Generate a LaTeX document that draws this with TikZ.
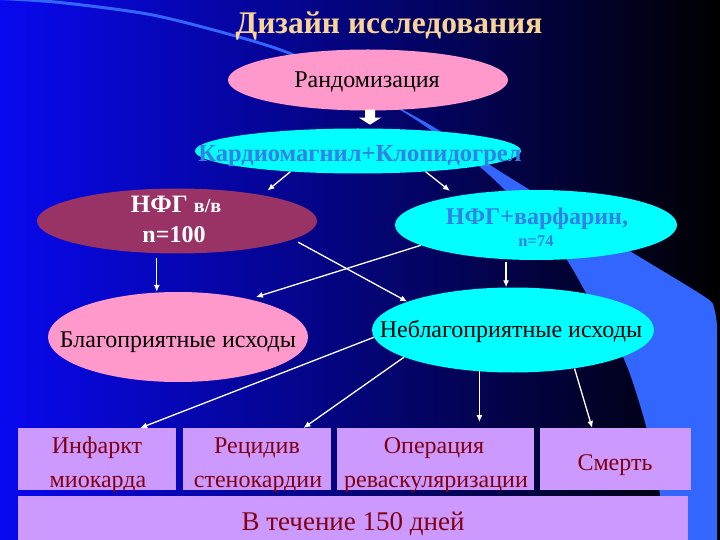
\documentclass[tikz,border=0pt]{standalone}
\usepackage{fontspec}
\setmainfont{Liberation Serif}
\usetikzlibrary{shapes.geometric,arrows.meta,calc}
\definecolor{pinkE}{RGB}{255,153,204}
\definecolor{cyanE}{RGB}{0,255,255}
\definecolor{maroonE}{RGB}{153,51,102}
\definecolor{lav}{RGB}{204,153,255}
\definecolor{boxred}{RGB}{128,0,16}
\definecolor{txtblue}{RGB}{51,128,230}
\definecolor{bandc}{RGB}{51,102,255}
\definecolor{bgleft}{RGB}{8,8,240}
\definecolor{bgmid}{RGB}{0,0,190}
\definecolor{titlec}{RGB}{250,212,148}
\tikzset{
  arr/.style={draw=white, line width=1.3pt, -{Latex[length=7pt,width=6pt]}},
  ell/.style={ellipse, inner sep=0pt},
  bx/.style={rectangle, fill=lav, inner sep=0pt, anchor=north west},
  etxt/.style={anchor=base, inner sep=0pt, font=\fontsize{24}{24}\selectfont},
  btxt/.style={anchor=base, inner sep=0pt, text=boxred, font=\fontsize{24}{24}\selectfont},
}
\begin{document}
\begin{tikzpicture}[x=1pt,y=-1pt]
\useasboundingbox (0,0) rectangle (720,540);
% background
\shade[left color=bgleft, middle color=bgmid, right color=black] (0,0) rectangle (720,540);
% curved band
\fill[bandc] plot[smooth] coordinates {(0,0) (60,4) (150,16) (230,36) (290,55) (350,85) (400,110) (435,133) (480,167) (507,192) (540,225) (567,260) (590,300) (623,357) (640,405) (652,450) (660,495) (665,541)}
  -- (717,541) -- plot[smooth] coordinates {(717,325) (714,308) (705,297) (633,253) (530,190) (490,165) (440,131) (405,111) (350,82) (290,52) (230,33) (150,13) (60,1) (0,-3)} -- cycle;

% title
\node[anchor=base, inner sep=0pt, text=titlec, font=\fontsize{31.5}{32}\selectfont\bfseries] (title) at (389,34) {Дизайн исследования};

% ellipses
\node[ell, fill=pinkE, minimum width=280pt, minimum height=61pt] (e1) at (368,80) {};
\node[ell, fill=cyanE, minimum width=326pt, minimum height=45pt] (e2) at (358,151) {};
\node[ell, fill=maroonE, minimum width=280pt, minimum height=65pt] (e3) at (177,221) {};
\node[ell, fill=cyanE, minimum width=282pt, minimum height=70pt] (e4) at (536,225) {};
\node[ell, fill=pinkE, minimum width=260pt, minimum height=90pt] (e5) at (178,337) {};
\node[ell, fill=cyanE, minimum width=282pt, minimum height=85pt] (e6) at (513,330) {};

% block arrow under Рандомизация
\coordinate (ba) at ($(e1.south)+(2,0)$);
\fill[white] (ba) ++(-5,-1) -- ++(10,0) -- ++(0,8) -- ++(6,0) -- ++(-11,7) -- ++(-11,-7) -- ++(6,0) -- cycle;

% ellipse texts
\node[etxt] (t1) at (367,88) {Рандомизация};
\node[etxt, text=txtblue, font=\fontsize{24.5}{24}\selectfont\bfseries] (t2) at (360,162) {Кардиомагнил+Клопидогрел};
\node[etxt, text=white, font=\bfseries] (t3a) at (176,213) {\fontsize{25}{25}\selectfont НФГ \fontsize{20}{20}\selectfont в/в};
\node[etxt, text=white, font=\fontsize{24}{24}\selectfont\bfseries] (t3b) at (174,242) {n=100};
\node[etxt, text=txtblue, font=\fontsize{24}{24}\selectfont\bfseries] (t4a) at (537,225) {НФГ+варфарин,};
\node[etxt, text=txtblue, font=\fontsize{16.5}{17}\selectfont\bfseries] (t4b) at (536,247) {n=74};
\node[etxt] (t5) at (178,347) {Благоприятные исходы};
\node[etxt] (t6) at (511,337) {Неблагоприятные исходы};

% boxes
\node[bx, minimum width=158pt, minimum height=62pt] (b1) at (18,428) {};
\node[bx, minimum width=148pt, minimum height=62pt] (b2) at (183,428) {};
\node[bx, minimum width=197pt, minimum height=62pt] (b3) at (337,428) {};
\node[bx, minimum width=151pt, minimum height=62pt] (b4) at (540,428) {};
\node[bx, minimum width=670pt, minimum height=46pt] (b5) at (18,496) {};

\node[btxt] (s1a) at (97,453) {Инфаркт};
\node[btxt] (s1b) at (98,487) {миокарда};
\node[btxt] (s2a) at (257,453) {Рецидив};
\node[btxt] (s2b) at (258,487) {стенокардии};
\node[btxt] (s3a) at (434,453) {Операция};
\node[btxt] (s3b) at (436,487) {реваскуляризации};
\node[btxt] (s4) at (615,470) {Смерть};
\node[btxt, font=\fontsize{27}{27}\selectfont] (s5) at (353,530) {В течение 150 дней};

% connectors
\draw[arr, shorten >=7pt] (e2.197) -- (e3.17);
\draw[arr, shorten >=8pt] (e2.343) -- (e4.160);
\draw[arr, shorten <=5pt] (e3.238) -- (e3.238 |- e5.north);
\draw[arr, shorten <=6pt] (e3.351) -- (e6.165);
\draw[arr, shorten >=7pt] (e4.190) -- (e5.28);
\draw[arr, shorten <=3pt] (e4.229) -- (e4.229 |- e6.north);
\draw[arr] (e6.183) -- (b1.36);
\draw[arr] (e6.194) -- (b2.34);
\draw[arr, shorten >=6pt] (e6.231) -- (e6.231 |- b3.north);
\draw[arr] (e6.328) -- (b4.127);
\end{tikzpicture}
\end{document}
